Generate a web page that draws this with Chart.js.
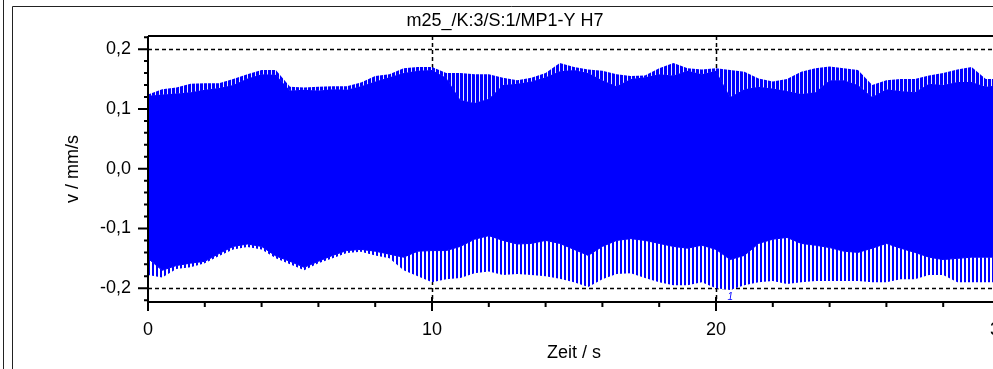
<!DOCTYPE html>
<html>
<head>
<meta charset="utf-8">
<script src="https://cdn.jsdelivr.net/npm/chart.js@4.4.1/dist/chart.umd.min.js"></script>
<style>
  html, body { margin: 0; padding: 0; background: #fff; overflow: hidden; }
  #wrap { position: relative; width: 1010px; height: 369px; }
</style>
</head>
<body>
<div id="wrap"><canvas id="signal" width="1010" height="369"></canvas></div>
<script>
// text
const title = 'm25_/K:3/S:1/MP1-Y H7';
const xLabel = 'Zeit / s';
const yLabel = 'v / mm/s';

// time axis of the envelope readings (s)
const zeit = [0, 0.5, 1, 1.5, 2, 2.5, 3, 3.5, 4, 4.5, 5, 5.5, 6, 6.5, 7, 7.5, 8, 8.5, 9, 9.5,
  10, 10.5, 11, 11.5, 12, 12.5, 13, 13.5, 14, 14.5, 15, 15.5, 16, 16.5, 17, 17.5, 18, 18.5, 19, 19.5,
  20, 20.5, 21, 21.5, 22, 22.5, 23, 23.5, 24, 24.5, 25, 25.5, 26, 26.5, 27, 27.5, 28, 28.5, 29, 29.5, 30];

// upper envelope: spike tips and solid edge (mm/s)
const upperPeak = [0.124, 0.133, 0.136, 0.142, 0.143, 0.143, 0.150, 0.158, 0.165, 0.165,
  0.137, 0.136, 0.137, 0.138, 0.138, 0.144, 0.155, 0.158, 0.168, 0.170,
  0.170, 0.160, 0.160, 0.158, 0.158, 0.152, 0.148, 0.152, 0.160, 0.177,
  0.170, 0.166, 0.164, 0.158, 0.155, 0.156, 0.168, 0.177, 0.168, 0.166,
  0.168, 0.165, 0.162, 0.151, 0.146, 0.150, 0.162, 0.168, 0.171, 0.168,
  0.165, 0.140, 0.148, 0.150, 0.150, 0.156, 0.160, 0.166, 0.170, 0.150, 0.150];
const upperBase = [0.122, 0.124, 0.126, 0.128, 0.132, 0.135, 0.140, 0.151, 0.158, 0.157,
  0.131, 0.132, 0.131, 0.133, 0.132, 0.138, 0.146, 0.153, 0.160, 0.164,
  0.165, 0.152, 0.115, 0.110, 0.117, 0.140, 0.142, 0.146, 0.153, 0.163,
  0.165, 0.160, 0.148, 0.138, 0.150, 0.153, 0.158, 0.156, 0.164, 0.158,
  0.164, 0.120, 0.133, 0.137, 0.134, 0.130, 0.125, 0.128, 0.148, 0.148,
  0.140, 0.120, 0.133, 0.130, 0.128, 0.142, 0.140, 0.145, 0.145, 0.137, 0.140];

// lower envelope: solid edge and spike tips (mm/s)
const lowerBase = [-0.150, -0.170, -0.162, -0.158, -0.155, -0.142, -0.130, -0.126, -0.130, -0.146,
  -0.155, -0.165, -0.155, -0.145, -0.137, -0.135, -0.138, -0.143, -0.148, -0.138,
  -0.137, -0.137, -0.130, -0.118, -0.112, -0.120, -0.126, -0.125, -0.120, -0.125,
  -0.135, -0.145, -0.130, -0.120, -0.117, -0.120, -0.125, -0.130, -0.133, -0.128,
  -0.135, -0.152, -0.145, -0.125, -0.118, -0.115, -0.125, -0.128, -0.132, -0.138,
  -0.140, -0.133, -0.125, -0.133, -0.140, -0.148, -0.152, -0.150, -0.148, -0.148, -0.148];
const lowerPeak = [-0.178, -0.182, -0.168, -0.165, -0.158, -0.146, -0.135, -0.131, -0.135, -0.150,
  -0.160, -0.170, -0.158, -0.150, -0.141, -0.139, -0.145, -0.150, -0.170, -0.180,
  -0.190, -0.185, -0.183, -0.175, -0.172, -0.178, -0.176, -0.178, -0.180, -0.184,
  -0.190, -0.198, -0.185, -0.176, -0.175, -0.183, -0.190, -0.195, -0.195, -0.190,
  -0.200, -0.203, -0.195, -0.190, -0.188, -0.193, -0.190, -0.188, -0.188, -0.188,
  -0.188, -0.190, -0.190, -0.185, -0.185, -0.178, -0.178, -0.190, -0.190, -0.190, -0.190];

const xTicks = [0, 10, 20, 30];
const yTicks = [-0.2, -0.1, 0, 0.1, 0.2];
const markerTime = 20.5;
const markerLabel = '1';

const FONT = "'Liberation Sans', Arial, sans-serif";
const BLUE = '#0000ff';

const canvas = document.getElementById('signal');
const ctx = canvas.getContext('2d');

// vertical stripe fill for the spiky parts of the envelope
function stripes(nBlue, nGap, gapColor) {
  const c = document.createElement('canvas');
  c.width = nBlue + nGap;
  c.height = 4;
  const g = c.getContext('2d');
  g.fillStyle = gapColor;
  g.fillRect(0, 0, c.width, 4);
  g.fillStyle = BLUE;
  g.fillRect(0, 0, nBlue, 4);
  return ctx.createPattern(c, 'repeat');
}

function pts(arr) {
  return zeit.map((t, i) => ({ x: t, y: arr[i] }));
}

const decor = {
  id: 'decor',
  beforeDatasetsDraw(chart) {
    const { ctx, chartArea: a, scales: { x, y } } = chart;
    ctx.save();
    ctx.strokeStyle = '#000';
    ctx.lineWidth = 1.5;
    ctx.setLineDash([4, 3]);
    ctx.beginPath();
    yTicks.forEach(v => {
      const py = Math.round(y.getPixelForValue(v)) + 0.5;
      ctx.moveTo(a.left, py);
      ctx.lineTo(a.right, py);
    });
    xTicks.forEach(v => {
      if (v === 0) return;
      const px = Math.round(x.getPixelForValue(v)) + 0.5;
      ctx.moveTo(px, a.top);
      ctx.lineTo(px, a.bottom);
    });
    ctx.stroke();
    ctx.restore();
  },
  afterDraw(chart) {
    const { ctx, chartArea: a, scales: { x, y } } = chart;
    ctx.save();
    // outer frame
    ctx.strokeStyle = '#222';
    ctx.lineWidth = 1;
    ctx.beginPath();
    ctx.moveTo(3.5, 0); ctx.lineTo(3.5, 369);
    ctx.moveTo(12.5, 6.5); ctx.lineTo(12.5, 369);
    ctx.moveTo(12.5, 6.5); ctx.lineTo(chart.width, 6.5);
    ctx.stroke();

    // plot box + axes
    ctx.strokeStyle = '#000';
    ctx.lineWidth = 2;
    ctx.beginPath();
    ctx.moveTo(a.left, a.top); ctx.lineTo(a.right, a.top);
    ctx.moveTo(a.left, a.top); ctx.lineTo(a.left, a.bottom);
    ctx.moveTo(a.left, a.bottom); ctx.lineTo(a.right, a.bottom);
    ctx.stroke();

    // tick marks
    ctx.beginPath();
    for (let k = -11; k <= 11; k++) {
      const py = y.getPixelForValue(k * 0.02);
      if (py < a.top || py > a.bottom) continue;
      const major = k % 5 === 0;
      ctx.moveTo(a.left - (major ? 10 : 4), py);
      ctx.lineTo(a.left, py);
    }
    for (let k = 0; k <= 15; k++) {
      const px = x.getPixelForValue(k * 2);
      const major = k % 5 === 0;
      ctx.moveTo(px, a.bottom - (major ? 5 : 0));
      ctx.lineTo(px, a.bottom + (major ? 9 : 5));
    }
    ctx.stroke();

    // texts
    ctx.fillStyle = '#000';
    ctx.font = '18px ' + FONT;
    ctx.textAlign = 'center';
    ctx.textBaseline = 'middle';
    ctx.fillText(title, 505, 21);
    ctx.fillText(xLabel, (a.left + a.right) / 2, 353);
    ctx.save();
    ctx.translate(78, (a.top + a.bottom) / 2);
    ctx.rotate(-Math.PI / 2);
    ctx.textBaseline = 'alphabetic';
    ctx.fillText(yLabel, 0, 0);
    ctx.restore();

    // cursor marker
    ctx.fillStyle = BLUE;
    ctx.font = 'italic 10px ' + FONT;
    ctx.fillText(markerLabel, x.getPixelForValue(markerTime), y.getPixelForValue(-0.215));
    ctx.restore();
  }
};

const tickFont = { family: FONT, size: 18 };

new Chart(ctx, {
  type: 'line',
  data: {
    datasets: [
      { data: pts(upperPeak), fill: '+1', backgroundColor: stripes(3, 1, '#e8ebff'), borderColor: 'rgba(0,0,0,0)', borderWidth: 1, pointRadius: 0 },
      { data: pts(upperBase), fill: '+1', backgroundColor: BLUE, borderColor: BLUE, borderWidth: 1, pointRadius: 0 },
      { data: pts(lowerBase), fill: '+1', backgroundColor: stripes(2, 2, '#ffffff'), borderColor: BLUE, borderWidth: 1, pointRadius: 0 },
      { data: pts(lowerPeak), fill: false, borderColor: 'rgba(0,0,0,0)', borderWidth: 1, pointRadius: 0 }
    ]
  },
  options: {
    responsive: false,
    animation: false,
    events: [],
    layout: { padding: { top: 36, right: 10, left: 0, bottom: 0 } },
    plugins: { legend: { display: false }, tooltip: { enabled: false }, title: { display: false } },
    scales: {
      x: {
        type: 'linear', min: 0, max: 30,
        grid: { display: false, drawTicks: false },
        border: { display: false },
        ticks: { stepSize: 10, padding: 17, color: '#000', font: tickFont, maxRotation: 0, callback: v => String(v) },
        afterFit(s) { s.height = 67; s.paddingLeft = 0; s.paddingRight = 0; }
      },
      y: {
        min: -0.223, max: 0.222,
        grid: { display: false, drawTicks: false },
        border: { display: false },
        ticks: {
          stepSize: 0.1, includeBounds: false, padding: 17, color: '#000', font: tickFont,
          callback: v => (Math.abs(v) < 1e-9 ? 0 : v).toFixed(1).replace('.', ',')
        },
        afterFit(s) { s.width = 148; s.paddingTop = 0; s.paddingBottom = 0; }
      }
    }
  },
  plugins: [decor]
});
</script>
</body>
</html>
